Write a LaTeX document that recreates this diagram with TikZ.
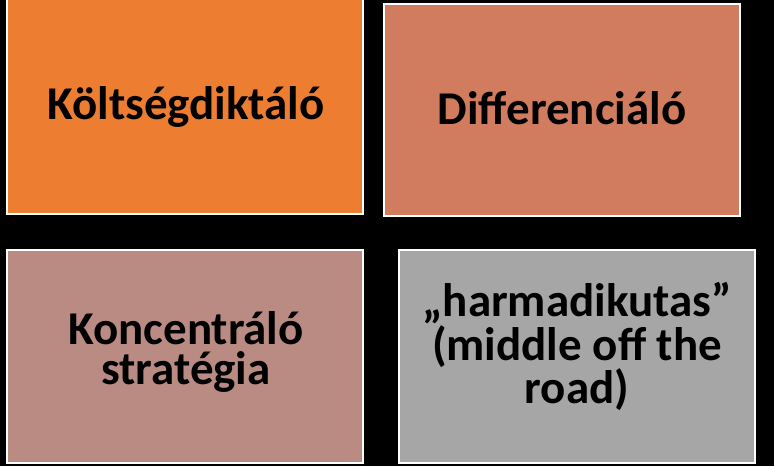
\documentclass[tikz,border=0pt]{standalone}
\usepackage{fontspec}
\setmainfont{Carlito}
\definecolor{cA}{RGB}{237,125,49}
\definecolor{cB}{RGB}{209,123,95}
\definecolor{cC}{RGB}{185,139,131}
\definecolor{cD}{RGB}{166,166,166}
\tikzset{
  quad/.style={draw=white, line width=2pt, inner sep=0pt, align=center,
    text=black, minimum width=356pt, minimum height=213pt},
  qtext/.style={font=\fontsize{47}{40}\selectfont\bfseries, align=center, anchor=base, inner sep=0pt}
}
\begin{document}
\begin{tikzpicture}[x=1pt,y=-1pt]
\fill[black] (0,0) rectangle (774,466);
\useasboundingbox (0,0) rectangle (774,466);
\node[quad, fill=cA, minimum height=215pt] (a) at (185,106) {};
\node[quad, fill=cB, minimum height=212pt] (b) at (562,110) {};
\node[quad, fill=cC] (c) at (185,356.5) {};
\node[quad, fill=cD] (d) at (577,356.5) {};
\node[qtext] (ta) at (186,119.5) {Költségdiktáló};
\node[qtext] (tb) at (562,124) {Differenciáló};
\node[qtext] (tc) at (186,384) {Koncentráló\\stratégia};
\node[qtext] (td) at (577,403) {„harmadikutas”\\(middle off the\\road)};
\end{tikzpicture}
\end{document}
